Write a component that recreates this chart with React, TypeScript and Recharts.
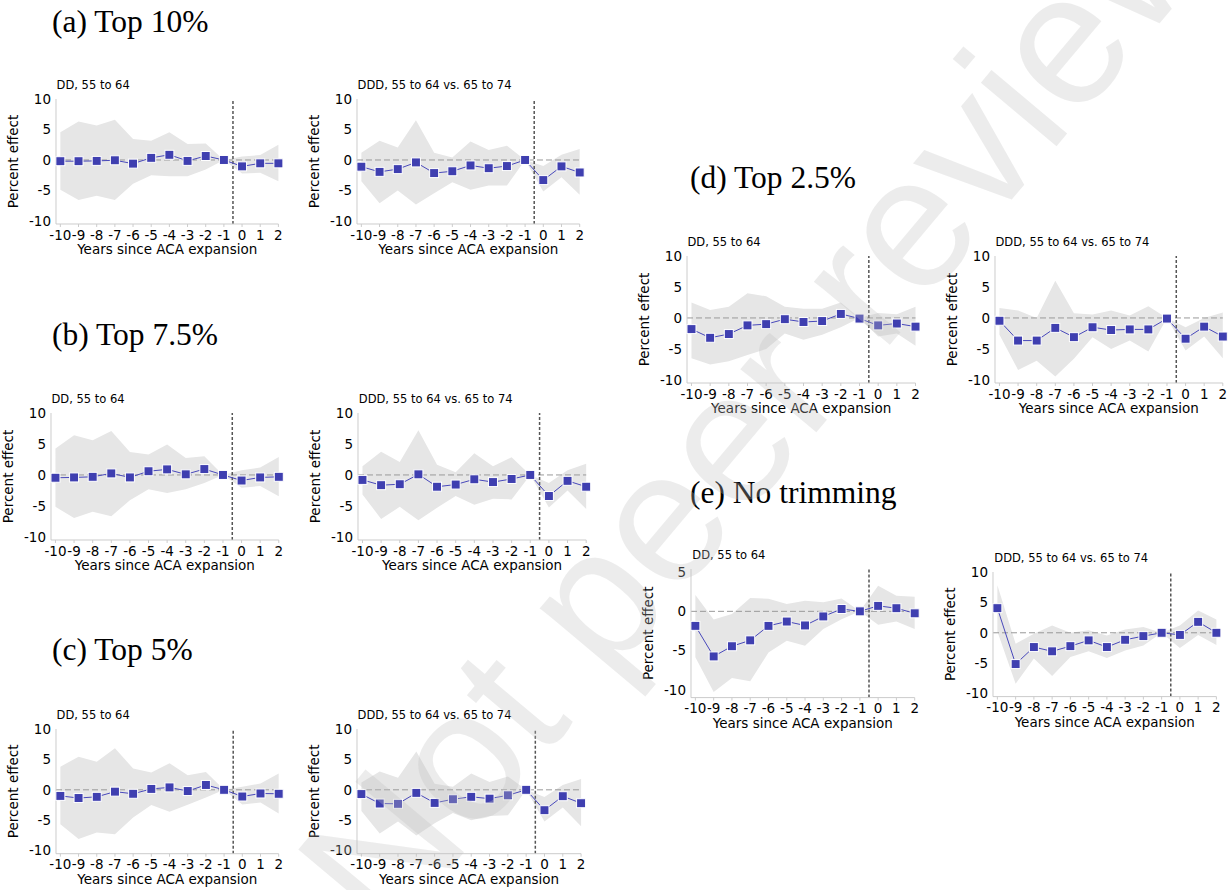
import React from "react";
import { ComposedChart, Area, Line, XAxis, YAxis, ReferenceLine } from "recharts";

const years = [-10, -9, -8, -7, -6, -5, -4, -3, -2, -1, 0, 1, 2];
const ticks20 = [-10, -5, 0, 5, 10];
const ticks15 = [-10, -5, 0, 5];

// (a) Top 10%
const aDDEst = [-0.2, -0.2, -0.15, -0.05, -0.6, 0.35, 0.85, -0.15, 0.65, 0, -1.05, -0.55, -0.55];
const aDDHi = [4.55, 6.3, 5.65, 6.6, 3.45, 3.15, 4.55, 2.6, 2.7, 0, 0.55, 0.8, 2.5];
const aDDLo = [-4.9, -6.55, -5.85, -6.55, -3.9, -2.5, -2.65, -2.65, -1.55, 0, -2.2, -2.1, -3.5];
const aDDDEst = [-1.1, -1.95, -1.5, -0.4, -2.15, -1.85, -0.9, -1.35, -1.0, 0, -3.3, -1.05, -2.05];
const aDDDHi = [1.2, 3.15, 2.05, 6.5, 1.2, 0.4, 3.05, 1.65, 2.35, 0, -1.0, 0.85, 1.8];
const aDDDLo = [-3.5, -7.1, -5.0, -7.3, -5.45, -3.65, -4.9, -4.2, -4.2, 0, -5.15, -2.85, -5.7];

// (b) Top 7.5%
const bDDEst = [-0.45, -0.4, -0.3, 0.25, -0.4, 0.6, 0.9, 0.1, 0.95, 0, -0.9, -0.4, -0.3];
const bDDHi = [4.25, 6.4, 5.6, 7.1, 3.7, 3.3, 4.9, 2.75, 3.0, 0, 0.75, 1.2, 2.9];
const bDDLo = [-5.15, -6.95, -5.95, -6.65, -4.1, -2.3, -2.9, -2.3, -1.3, 0, -2.05, -1.8, -3.45];
const bDDDEst = [-0.8, -1.65, -1.5, 0.1, -1.9, -1.55, -0.7, -1.15, -0.65, 0, -3.4, -0.95, -1.9];
const bDDDHi = [1.4, 3.75, 2.1, 7.2, 1.65, 0.45, 3.5, 1.4, 2.85, 0, -1.3, 0.75, 1.8];
const bDDDLo = [-3.15, -7.1, -5.15, -7.3, -5.3, -3.4, -4.8, -3.85, -3.95, 0, -5.25, -2.5, -5.5];

// (c) Top 5%
const cDDEst = [-1.0, -1.35, -1.15, -0.3, -0.65, 0.15, 0.4, -0.2, 0.8, 0, -1.1, -0.6, -0.65];
const cDDHi = [3.8, 5.45, 4.6, 6.85, 3.5, 2.85, 4.35, 2.4, 2.95, 0, 0.5, 1.05, 2.7];
const cDDLo = [-5.65, -8.1, -7.0, -7.3, -4.55, -2.5, -3.6, -2.45, -1.25, 0, -2.4, -2.1, -3.9];
const cDDDEst = [-0.7, -2.25, -2.3, -0.5, -2.15, -1.55, -1.15, -1.45, -0.9, 0, -3.35, -1.05, -2.2];
const cDDDHi = [1.2, 3.0, 2.0, 6.3, 1.0, 0.5, 2.7, 1.3, 2.2, 0, -1.2, 0.8, 1.8];
const cDDDLo = [-3.5, -7.2, -5.2, -7.5, -5.5, -3.8, -5.0, -4.3, -4.2, 0, -5.2, -2.9, -6.0];

// (d) Top 2.5%
const dDDEst = [-1.8, -3.2, -2.6, -1.2, -1.0, -0.2, -0.65, -0.5, 0.65, -0.1, -1.2, -0.9, -1.4];
const dDDHi = [2.5, 1.3, 1.8, 4.0, 3.5, 1.8, 1.5, 1.5, 2.5, 0, 0.8, 0.6, 1.8];
const dDDLo = [-6.5, -7.5, -7.0, -6.0, -5.0, -2.5, -3.5, -2.7, -1.5, 0, -3.0, -2.5, -4.5];
const dDDDEst = [-0.45, -3.65, -3.65, -1.6, -3.1, -1.5, -1.95, -1.85, -1.85, -0.1, -3.35, -1.4, -3.0];
const dDDDHi = [1.6, 1.2, 0, 6.0, 0.75, 0.55, 1.2, 0.4, 1.9, 0, -1.5, 0, 0.9];
const dDDDLo = [-2.7, -8.4, -6.9, -9.45, -6.6, -3.1, -5.0, -3.65, -5.4, 0, -5.25, -3.0, -6.5];

// (e) No trimming
const eDDEst = [-1.85, -5.75, -4.45, -3.7, -1.85, -1.3, -1.8, -0.65, 0.3, 0, 0.7, 0.4, -0.25];
const eDDHi = [2.1, -1.05, -0.35, 1.7, 1.6, 0.95, 1.35, 1.15, 1.65, 0, 3.25, 2.0, 1.85];
const eDDLo = [-5.85, -10.3, -8.5, -8.9, -5.25, -3.75, -4.4, -2.25, -1.0, 0, -1.7, -1.3, -2.25];
const eDDDEst = [4.05, -5.15, -2.35, -3.05, -2.2, -1.25, -2.35, -1.15, -0.55, 0, -0.35, 1.8, 0];
const eDDDHi = [7.8, -1.8, -0.15, 1.2, 0, 0.4, -0.45, 0.55, 0.95, 0, 1.2, 3.65, 2.2];
const eDDDLo = [0.2, -8.4, -4.25, -7.1, -4.0, -3.05, -4.15, -2.9, -2.1, 0, -2.5, -0.35, -2.0];

const SANS = "DejaVu Sans";
const SERIF = "Liberation Serif";
const BLUE = "#3f3fb0";
const FS = 13.5;

const YW = 50; // y axis width
const XH = 34; // x axis height
const MR = 12;
const MT = 12;

const square = (props: any) => {
  const { cx, cy, index } = props;
  if (cx == null || cy == null) return <g key={index} />;
  return <rect key={index} x={cx - 4.5} y={cy - 4.5} width={9} height={9} fill={BLUE} stroke="#fff" strokeWidth={1} />;
};

function Panel({ est, lo, hi, left, top, width, height, yDomain, yTicks, title }: any) {
  const data = years.map((x, i) => ({ x, est: est[i], band: [lo[i], hi[i]] }));
  return (
    <>
      <div style={{ position: "absolute", left: left - YW, top: top - MT }}>
        <ComposedChart
          width={YW + width + MR}
          height={height + XH + MT}
          data={data}
          margin={{ top: MT, right: MR, bottom: 0, left: 0 }}
        >
          <XAxis
            type="number"
            dataKey="x"
            domain={[-10.24, 2]}
            ticks={years}
            interval={0}
            height={XH}
            tickSize={3}
            tickMargin={3}
            axisLine={{ stroke: "#cccccc" }}
            tickLine={{ stroke: "#cccccc" }}
            tick={{ fill: "#000", fontSize: FS, fontFamily: SANS }}
            label={{ value: "Years since ACA expansion", position: "insideBottom", offset: 4, fill: "#000", fontSize: FS, fontFamily: SANS }}
          />
          <YAxis
            type="number"
            domain={yDomain}
            ticks={yTicks}
            interval={0}
            width={YW}
            tickSize={2}
            tickMargin={3}
            axisLine={{ stroke: "#cccccc" }}
            tickLine={false}
            tick={{ fill: "#000", fontSize: FS, fontFamily: SANS }}
            label={{ value: "Percent effect", angle: -90, position: "insideLeft", offset: 7, fill: "#000", fontSize: FS, fontFamily: SANS, style: { textAnchor: "middle" } }}
          />
          <Area dataKey="band" type="linear" stroke="none" fill="#e6e6e6" fillOpacity={1} isAnimationActive={false} />
          <ReferenceLine y={0} stroke="#999999" strokeDasharray="6 3" />
          <ReferenceLine x={-0.5} stroke="#555555" strokeWidth={1.5} strokeDasharray="3 2" />
          <Line dataKey="est" type="linear" stroke="#4848bb" strokeWidth={1} dot={square} isAnimationActive={false} />
        </ComposedChart>
      </div>
      <div
        style={{
          position: "absolute",
          left: left + 1,
          top: top - 21,
          fontFamily: SANS,
          fontSize: 11.5,
          lineHeight: "14px",
          whiteSpace: "nowrap",
        }}
      >
        {title}
      </div>
    </>
  );
}

const DD = "DD, 55 to 64";
const DDD = "DDD, 55 to 64 vs. 65 to 74";
const d20 = [-10.5, 10];

function Heading({ x, y, text }: any) {
  return (
    <div style={{ position: "absolute", left: x, top: y - 26, fontFamily: SERIF, fontSize: 31.5, lineHeight: "32px", whiteSpace: "nowrap" }}>
      {text}
    </div>
  );
}

export default function App() {
  return (
    <div style={{ position: "absolute", left: 0, top: 0, width: 1231, height: 890, background: "#fff", overflow: "hidden" }}>
      <Heading x={52} y={32} text="(a) Top 10%" />
      <Heading x={52} y={345} text="(b) Top 7.5%" />
      <Heading x={52} y={660} text="(c) Top 5%" />
      <Heading x={690} y={188} text="(d) Top 2.5%" />
      <Heading x={690} y={503} text="(e) No trimming" />

      <Panel title={DD} est={aDDEst} lo={aDDLo} hi={aDDHi} left={55.6} top={99} width={222.4} height={125} yDomain={d20} yTicks={ticks20} />
      <Panel title={DDD} est={aDDDEst} lo={aDDDLo} hi={aDDDHi} left={356.6} top={99} width={222.7} height={125} yDomain={d20} yTicks={ticks20} />

      <Panel title={DD} est={bDDEst} lo={bDDLo} hi={bDDHi} left={50.5} top={412.7} width={227.8} height={127} yDomain={d20} yTicks={ticks20} />
      <Panel title={DDD} est={bDDDEst} lo={bDDDLo} hi={bDDDHi} left={357.8} top={412.7} width={228.2} height={127} yDomain={d20} yTicks={ticks20} />

      <Panel title={DD} est={cDDEst} lo={cDDLo} hi={cDDHi} left={55.6} top={729} width={222.7} height={124.7} yDomain={d20} yTicks={ticks20} />
      <Panel title={DDD} est={cDDDEst} lo={cDDDLo} hi={cDDDHi} left={356.6} top={729} width={224.1} height={124.7} yDomain={d20} yTicks={ticks20} />

      <Panel title={DD} est={dDDEst} lo={dDDLo} hi={dDDHi} left={686.5} top={256} width={228.5} height={127} yDomain={d20} yTicks={ticks20} />
      <Panel title={DDD} est={dDDDEst} lo={dDDDLo} hi={dDDDHi} left={994.5} top={256} width={227.8} height={127} yDomain={d20} yTicks={ticks20} />

      <Panel title={DD} est={eDDEst} lo={eDDLo} hi={eDDHi} left={691.3} top={568.6} width={223.7} height={128.6} yDomain={[-11, 5.4]} yTicks={ticks15} />
      <Panel title={DDD} est={eDDDEst} lo={eDDDLo} hi={eDDDHi} left={993.3} top={571.7} width={223.4} height={124.6} yDomain={d20} yTicks={ticks20} />

      {/* watermark on top of everything */}
      <svg width={1231} height={890} style={{ position: "absolute", left: 0, top: 0, pointerEvents: "none" }}>
        <text
          x={387}
          y={944}
          transform="rotate(-50 387 944)"
          fontFamily="Liberation Sans"
          fontSize={187}
          fill="#c0c0c0"
          fillOpacity={0.3}
        >
          Not peer reviewed
        </text>
      </svg>
    </div>
  );
}
